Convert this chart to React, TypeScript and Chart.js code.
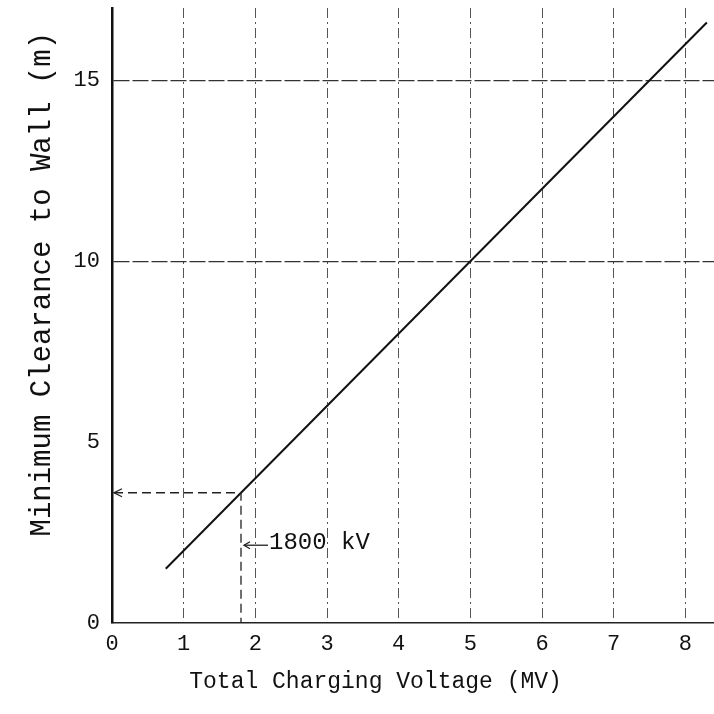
import React, { useEffect, useRef } from "react";
import { Chart, registerables } from "chart.js";

Chart.register(...registerables);

// Data
const lineVoltage = [0.75, 8.3]; // MV
const lineClearance = [1.5, 16.6]; // m
const markerVoltage = 1.8; // MV
const markerClearance = 3.6; // m
const markerLabel = "1800 kV";
const markerLabelY = 2.15;
const xTicks = [0, 1, 2, 3, 4, 5, 6, 7, 8];
const yTicks = [0, 5, 10, 15];
const xTitle = "Total Charging Voltage (MV)";
const yTitle = "Minimum Clearance to Wall (m)";

const MONO = "'Liberation Mono', 'DejaVu Sans Mono', monospace";

const annotationPlugin = {
  id: "markerAnnot",
  afterDatasetsDraw(chart: any) {
    const { ctx, scales } = chart;
    const xs = scales.x;
    const ys = scales.y;
    const x0 = xs.getPixelForValue(0);
    const xm = xs.getPixelForValue(markerVoltage);
    const ym = ys.getPixelForValue(markerClearance);
    const y0 = ys.getPixelForValue(0);
    ctx.save();
    ctx.strokeStyle = "#222";
    ctx.lineWidth = 1.3;
    ctx.setLineDash([9, 5]);
    ctx.beginPath();
    ctx.moveTo(x0 + 2, ym);
    ctx.lineTo(xm, ym);
    ctx.lineTo(xm, y0);
    ctx.stroke();
    ctx.setLineDash([]);
    ctx.beginPath();
    ctx.moveTo(x0 + 10, ym - 4);
    ctx.lineTo(x0 + 2, ym);
    ctx.lineTo(x0 + 10, ym + 4);
    ctx.stroke();
    const yl = ys.getPixelForValue(markerLabelY);
    ctx.beginPath();
    ctx.moveTo(xm + 27, yl);
    ctx.lineTo(xm + 3, yl);
    ctx.stroke();
    ctx.beginPath();
    ctx.moveTo(xm + 9, yl - 3.5);
    ctx.lineTo(xm + 3, yl);
    ctx.lineTo(xm + 9, yl + 3.5);
    ctx.stroke();
    ctx.fillStyle = "#111";
    ctx.font = `24px ${MONO}`;
    ctx.textAlign = "left";
    ctx.textBaseline = "middle";
    ctx.fillText(markerLabel, xm + 28, yl - 3);

    // axis titles
    ctx.font = `23px ${MONO}`;
    ctx.textAlign = "center";
    ctx.textBaseline = "middle";
    ctx.fillText(xTitle, chart.width * 0.526, chart.height * 0.955);
    ctx.save();
    ctx.translate(chart.width * 0.059, chart.height * 0.398);
    ctx.rotate(-Math.PI / 2);
    ctx.font = `29px ${MONO}`;
    ctx.fillText(yTitle, 0, 0);
    ctx.restore();
    ctx.restore();
  },
};

export default function App() {
  const ref = useRef<HTMLCanvasElement>(null);
  useEffect(() => {
    if (!ref.current) return;
    const chart = new Chart(ref.current, {
      type: "scatter",
      data: {
        datasets: [
          {
            data: lineVoltage.map((v, i) => ({ x: v, y: lineClearance[i] })),
            showLine: true,
            borderColor: "#111",
            borderWidth: 2,
            pointRadius: 0,
            fill: false,
          },
        ],
      },
      options: {
        responsive: false,
        animation: false,
        layout: { padding: { left: 0, right: 0, top: 8, bottom: 0 } },
        plugins: { legend: { display: false }, tooltip: { enabled: false } },
        scales: {
          x: {
            type: "linear",
            min: 0,
            max: 8.4,
            afterBuildTicks: (s: any) => {
              s.ticks = xTicks.map((v) => ({ value: v }));
            },
            afterFit: (s: any) => {
              s.height = 91;
              s.paddingLeft = 0;
              s.paddingRight = 0;
            },
            border: { color: "#222", width: 1.5, dash: [10, 4, 2, 4] },
            grid: {
              drawTicks: false,
              color: (c: any) => (c.tick && c.tick.value === 0 ? "rgba(0,0,0,0)" : "#555"),
              lineWidth: 1,
            },
            ticks: {
              color: "#111",
              font: { family: MONO, size: 22 },
              padding: 8,
            },
          },
          y: {
            type: "linear",
            min: 0,
            max: 17,
            afterBuildTicks: (s: any) => {
              s.ticks = yTicks.map((v) => ({ value: v }));
            },
            afterFit: (s: any) => {
              s.width = 112;
              s.paddingTop = 0;
              s.paddingBottom = 0;
            },
            border: { color: "#111", width: 2.5, dash: [16, 3] },
            grid: {
              drawTicks: false,
              color: (c: any) =>
                c.tick && (c.tick.value === 0 || c.tick.value === 5) ? "rgba(0,0,0,0)" : "#333",
              lineWidth: 1.2,
            },
            ticks: {
              color: "#111",
              font: { family: MONO, size: 22 },
              padding: 12,
            },
          },
        },
      } as any,
      plugins: [annotationPlugin],
    });
    return () => chart.destroy();
  }, []);
  return (
    <div style={{ position: "absolute", left: 0, top: 0, width: 714, height: 714, background: "#fff" }}>
      <canvas ref={ref} width={714} height={714} />
    </div>
  );
}
